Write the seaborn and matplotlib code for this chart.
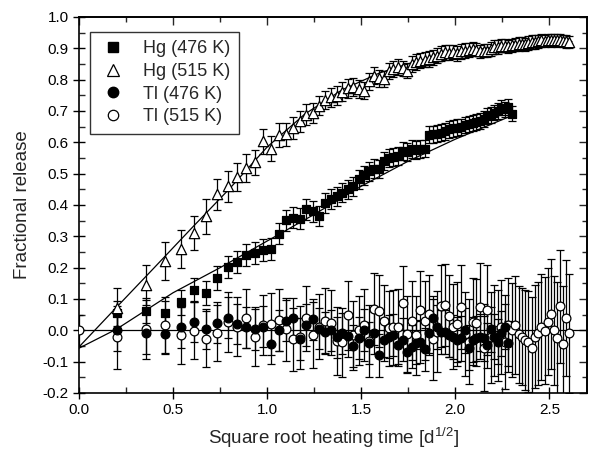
import numpy as np
import pandas as pd
import matplotlib
matplotlib.use("Agg")
import matplotlib.pyplot as plt
from matplotlib.lines import Line2D
from matplotlib.ticker import MultipleLocator
import seaborn as sns

# ---------------- data ----------------
x_grid = [0.204, 0.354, 0.456, 0.540, 0.612, 0.677, 0.736, 0.791, 0.842, 0.890,
          0.935, 0.979, 1.021, 1.061, 1.099, 1.137, 1.173, 1.208, 1.242, 1.275,
          1.307, 1.339, 1.369, 1.399, 1.429, 1.458, 1.486, 1.514, 1.541, 1.568,
          1.594, 1.620, 1.646, 1.671, 1.696, 1.720, 1.744, 1.768, 1.791, 1.814,
          1.837, 1.860, 1.882, 1.904, 1.926, 1.947, 1.969, 1.990, 2.010, 2.031,
          2.051, 2.072, 2.092, 2.111, 2.131, 2.151, 2.170, 2.189, 2.208, 2.227,
          2.245, 2.264, 2.282, 2.300, 2.318, 2.336, 2.354, 2.372, 2.389, 2.407,
          2.424, 2.441, 2.458, 2.475, 2.492, 2.508, 2.525, 2.541, 2.558, 2.574,
          2.590, 2.606]

hg515_y = [0.070, 0.145, 0.222, 0.260, 0.311, 0.364, 0.434, 0.460, 0.490, 0.519,
           0.537, 0.604, 0.580, 0.623, 0.625, 0.645, 0.667, 0.688, 0.695, 0.717,
           0.735, 0.744, 0.749, 0.762, 0.772, 0.776, 0.770, 0.765, 0.795, 0.813,
           0.805, 0.802, 0.828, 0.834, 0.840, 0.836, 0.829, 0.850, 0.856, 0.861,
           0.864, 0.866, 0.872, 0.876, 0.882, 0.888, 0.886, 0.888, 0.884, 0.890,
           0.893, 0.895, 0.898, 0.896, 0.890, 0.893, 0.893, 0.898, 0.904, 0.905,
           0.909, 0.909, 0.906, 0.910, 0.912, 0.914, 0.915, 0.913, 0.917, 0.920,
           0.920, 0.922, 0.925, 0.924, 0.926, 0.925, 0.927, 0.925, 0.926, 0.924,
           0.922, 0.920]
hg515_err = [0.065, 0.065, 0.060, 0.060, 0.055, 0.055, 0.050, 0.050, 0.045, 0.045,
             0.040, 0.040, 0.040, 0.038, 0.036, 0.035, 0.034, 0.033, 0.032, 0.031,
             0.030, 0.030, 0.030, 0.029, 0.029, 0.028, 0.028, 0.028, 0.027, 0.027,
             0.027, 0.026, 0.026, 0.026, 0.026, 0.025, 0.025, 0.025, 0.025, 0.025,
             0.025, 0.024, 0.024, 0.024, 0.024, 0.024, 0.024, 0.023, 0.023, 0.023,
             0.023, 0.023, 0.023, 0.022, 0.022, 0.022, 0.022, 0.022, 0.022, 0.022,
             0.022, 0.021, 0.021, 0.021, 0.021, 0.021, 0.021, 0.021, 0.021, 0.021,
             0.021, 0.020, 0.020, 0.020, 0.020, 0.020, 0.020, 0.020, 0.020, 0.020,
             0.020, 0.020]

hg476_y = [0.054, 0.063, 0.054, 0.089, 0.129, 0.118, 0.167, 0.202, 0.218, 0.241,
           0.247, 0.255, 0.260, 0.309, 0.351, 0.360, 0.356, 0.386, 0.380, 0.364,
           0.405, 0.418, 0.428, 0.439, 0.450, 0.460, 0.482, 0.495, 0.508, 0.516,
           0.515, 0.540, 0.551, 0.553, 0.556, 0.572, 0.570, 0.578, 0.575, 0.578,
           0.580, 0.624, 0.626, 0.628, 0.631, 0.635, 0.642, 0.645, 0.647, 0.650,
           0.655, 0.658, 0.662, 0.666, 0.669, 0.675, 0.685, 0.688, 0.695, 0.700,
           0.711, 0.705, 0.712, 0.692]
hg476_err = [0.040, 0.040, 0.040, 0.040, 0.038, 0.038, 0.037, 0.036, 0.036, 0.035,
             0.035, 0.035, 0.035, 0.034, 0.034, 0.034, 0.033, 0.033, 0.033, 0.032,
             0.032, 0.032, 0.031, 0.031, 0.031, 0.030, 0.030, 0.030, 0.030, 0.030,
             0.029, 0.029, 0.029, 0.029, 0.029, 0.028, 0.028, 0.028, 0.028, 0.028,
             0.028, 0.027, 0.027, 0.027, 0.027, 0.027, 0.027, 0.027, 0.026, 0.026,
             0.026, 0.026, 0.026, 0.026, 0.026, 0.026, 0.025, 0.025, 0.025, 0.025,
             0.025, 0.025, 0.025, 0.025]

tl476_y = [0.000, -0.010, -0.012, 0.010, 0.028, 0.004, 0.024, 0.040, 0.020, 0.010,
           0.003, 0.012, -0.044, 0.000, 0.031, 0.038, -0.028, 0.017, 0.035, 0.005,
           -0.006, 0.000, -0.022, -0.010, -0.018, -0.049, -0.026, 0.000, -0.040, -0.010,
           -0.080, -0.030, -0.020, -0.015, -0.047, -0.030, -0.068, -0.052, -0.040, -0.036,
           -0.061, -0.010, 0.038, 0.010, -0.004, -0.004, -0.015, -0.020, -0.030, -0.026,
           0.000, -0.055, -0.030, -0.026, -0.020, -0.026, -0.047, 0.003, -0.020, -0.036,
           -0.010, 0.012, -0.042]
tl476_err = [0.065, 0.065, 0.065, 0.065, 0.065, 0.065, 0.065, 0.065, 0.065, 0.065,
             0.065, 0.065, 0.065, 0.065, 0.065, 0.065, 0.066, 0.066, 0.066, 0.066,
             0.066, 0.066, 0.066, 0.066, 0.067, 0.067, 0.067, 0.067, 0.067, 0.067,
             0.068, 0.068, 0.068, 0.068, 0.068, 0.068, 0.068, 0.069, 0.069, 0.069,
             0.069, 0.069, 0.070, 0.070, 0.070, 0.070, 0.070, 0.070, 0.071, 0.071,
             0.071, 0.071, 0.071, 0.072, 0.072, 0.072, 0.072, 0.072, 0.073, 0.073,
             0.073, 0.073, 0.073]

tl515_x0 = [0.0]
tl515_y0 = [0.0]
tl515_err0 = [0.05]
tl515_y = [-0.022, 0.003, 0.017, -0.016, -0.001, -0.028, -0.008, 0.026, 0.012, 0.038,
           -0.020, 0.017, 0.020, 0.033, 0.003, -0.029, -0.022, 0.038, -0.016, 0.012,
           0.031, 0.025, -0.034, -0.038, 0.048, -0.016, 0.000, 0.017, -0.034, 0.067,
           0.063, 0.031, 0.006, 0.010, 0.012, 0.086, -0.012, 0.031, -0.016, 0.065,
           0.031, 0.053, -0.029, -0.004, 0.078, 0.081, 0.046, 0.012, 0.020, 0.074,
           -0.012, -0.036, 0.028, 0.025, 0.074, -0.055, 0.065, -0.022, 0.000, -0.016,
           0.012, -0.036, 0.017, 0.000, 0.017, -0.012, -0.020, -0.031, -0.036, -0.055,
           -0.020, -0.010, 0.010, -0.001, 0.028, 0.053, 0.000, -0.026, 0.077, -0.044,
           0.038, -0.010]
tl515_err = [0.100, 0.095, 0.090, 0.090, 0.090, 0.090, 0.090, 0.095, 0.095, 0.095,
             0.095, 0.095, 0.100, 0.100, 0.100, 0.100, 0.100, 0.105, 0.105, 0.105,
             0.105, 0.105, 0.110, 0.110, 0.110, 0.110, 0.110, 0.115, 0.115, 0.115,
             0.115, 0.115, 0.120, 0.120, 0.120, 0.120, 0.120, 0.125, 0.125, 0.125,
             0.125, 0.125, 0.130, 0.130, 0.130, 0.130, 0.130, 0.135, 0.135, 0.135,
             0.135, 0.135, 0.140, 0.140, 0.140, 0.140, 0.145, 0.145, 0.145, 0.145,
             0.150, 0.150, 0.150, 0.150, 0.155, 0.155, 0.155, 0.160, 0.160, 0.160,
             0.165, 0.165, 0.170, 0.170, 0.170, 0.175, 0.175, 0.180, 0.180, 0.185,
             0.185, 0.190]

fit515_x = [0.0, 0.2, 0.4, 0.6, 0.8, 1.0, 1.2, 1.4, 1.6, 1.8, 2.0, 2.2, 2.4, 2.62]
fit515_y = [-0.053, 0.074, 0.200, 0.327, 0.452, 0.585, 0.690, 0.768, 0.822, 0.860,
            0.886, 0.903, 0.914, 0.922]
fit476_x = [0.0, 0.2, 0.5, 0.75, 1.0, 1.25, 1.5, 1.75, 2.0, 2.32]
fit476_y = [-0.057, 0.004, 0.120, 0.200, 0.285, 0.370, 0.460, 0.540, 0.610, 0.690]

xlabel = "Square root heating time [d$^{1/2}$]"
ylabel = "Fractional release"
labels = ["Hg (476 K)", "Hg (515 K)", "Tl (476 K)", "Tl (515 K)"]

# ---------------- build tables ----------------
n_hg515 = len(hg515_y)
n_hg476 = len(hg476_y)
n_tl476 = len(tl476_y)
n_tl515 = len(tl515_y)
df_hg515 = pd.DataFrame({"x": x_grid[:n_hg515], "y": hg515_y, "e": hg515_err})
df_hg476 = pd.DataFrame({"x": x_grid[:n_hg476], "y": hg476_y, "e": hg476_err})
df_tl476 = pd.DataFrame({"x": x_grid[:n_tl476], "y": tl476_y, "e": tl476_err})
df_tl515 = pd.DataFrame({"x": tl515_x0 + x_grid[:n_tl515], "y": tl515_y0 + tl515_y,
                         "e": tl515_err0 + tl515_err})
df_fit515 = pd.DataFrame({"x": fit515_x, "y": fit515_y})
df_fit476 = pd.DataFrame({"x": fit476_x, "y": fit476_y})

# ---------------- style ----------------
sns.set_theme(style="white")
plt.rcParams["font.family"] = ["Liberation Sans", "DejaVu Sans"]
plt.rcParams["mathtext.fontset"] = "custom"
plt.rcParams["mathtext.rm"] = "Liberation Sans"
plt.rcParams["mathtext.it"] = "Liberation Sans"
plt.rcParams["axes.edgecolor"] = "black"

fig = plt.figure(figsize=(5.89, 4.57), dpi=100)
ax = fig.add_axes([79 / 589, 1 - 393 / 457, (587 - 79) / 589, (393 - 17) / 457])

# zero line
ax.axhline(0, color="black", lw=0.9, zorder=1)

# fit lines
sns.lineplot(data=df_fit515, x="x", y="y", ax=ax, color="black", lw=0.9,
             zorder=2, legend=False, sort=False, estimator=None)
sns.lineplot(data=df_fit476, x="x", y="y", ax=ax, color="black", lw=0.9,
             zorder=2, legend=False, sort=False, estimator=None)

# error bars
for d in (df_tl515, df_tl476, df_hg476, df_hg515):
    ax.errorbar(d["x"], d["y"], yerr=d["e"], fmt="none", ecolor="black",
                elinewidth=0.9, capsize=3.2, capthick=0.9, zorder=3)

# markers
sns.scatterplot(data=df_tl515, x="x", y="y", ax=ax, marker="o", s=40,
                facecolor="white", edgecolor="black", linewidth=0.9, zorder=4)
sns.scatterplot(data=df_tl476, x="x", y="y", ax=ax, marker="o", s=40,
                color="black", edgecolor="black", linewidth=0.9, zorder=5)
sns.scatterplot(data=df_hg476, x="x", y="y", ax=ax, marker="s", s=30,
                color="black", edgecolor="black", linewidth=0.9, zorder=5)
sns.scatterplot(data=df_hg515, x="x", y="y", ax=ax, marker="^", s=55,
                facecolor="white", edgecolor="black", linewidth=0.9, zorder=5)

ax.set_xlim(0, 2.7)
ax.set_ylim(-0.2, 1.0)
ax.xaxis.set_major_locator(MultipleLocator(0.5))
ax.xaxis.set_minor_locator(MultipleLocator(0.25))
ax.yaxis.set_major_locator(MultipleLocator(0.1))
ax.yaxis.set_minor_locator(MultipleLocator(0.05))
ax.xaxis.set_major_formatter(plt.FuncFormatter(lambda v, p: f"{v:.1f}"))
ax.yaxis.set_major_formatter(plt.FuncFormatter(lambda v, p: f"{v:.1f}"))

for s in ax.spines.values():
    s.set_linewidth(1.2)
    s.set_color("black")

ax.tick_params(which="major", direction="inout", length=8, width=1.0,
               labelsize=11, colors="black", bottom=True, left=True)
ax.tick_params(which="minor", direction="in", length=4, width=1.0,
               bottom=True, left=True)
# mirrored top/right ticks (inward)
top = ax.secondary_xaxis("top")
top.xaxis.set_major_locator(MultipleLocator(0.5))
top.xaxis.set_minor_locator(MultipleLocator(0.25))
top.tick_params(which="major", direction="in", length=6, width=1.0, labeltop=False)
top.tick_params(which="minor", direction="in", length=3.5, width=1.0)
top.set_xticklabels([])
top.spines["top"].set_linewidth(1.2)
right = ax.secondary_yaxis("right")
right.yaxis.set_major_locator(MultipleLocator(0.1))
right.yaxis.set_minor_locator(MultipleLocator(0.05))
right.tick_params(which="major", direction="in", length=6, width=1.0, labelright=False)
right.tick_params(which="minor", direction="in", length=3.5, width=1.0)
right.set_yticklabels([])
right.spines["right"].set_linewidth(1.2)

ax.set_xlabel(xlabel, fontsize=13.5, labelpad=6)
ax.set_ylabel(ylabel, fontsize=13.5, labelpad=8)

handles = [
    Line2D([], [], marker="s", ls="none", color="black", markersize=6.5),
    Line2D([], [], marker="^", ls="none", markerfacecolor="white",
           markeredgecolor="black", markersize=8, markeredgewidth=0.9),
    Line2D([], [], marker="o", ls="none", color="black", markersize=7.5),
    Line2D([], [], marker="o", ls="none", markerfacecolor="white",
           markeredgecolor="black", markersize=7.5, markeredgewidth=0.9),
]
leg = ax.legend(handles, labels, loc="upper left", bbox_to_anchor=(0.022, 0.96),
                fontsize=13, frameon=True, fancybox=False, handlelength=1.6,
                handletextpad=0.9, borderpad=0.45, labelspacing=0.32,
                borderaxespad=0.0)
leg.get_frame().set_edgecolor("black")
leg.get_frame().set_linewidth(1.0)
leg.set_zorder(10)

fig.savefig("out.png", dpi=100)
